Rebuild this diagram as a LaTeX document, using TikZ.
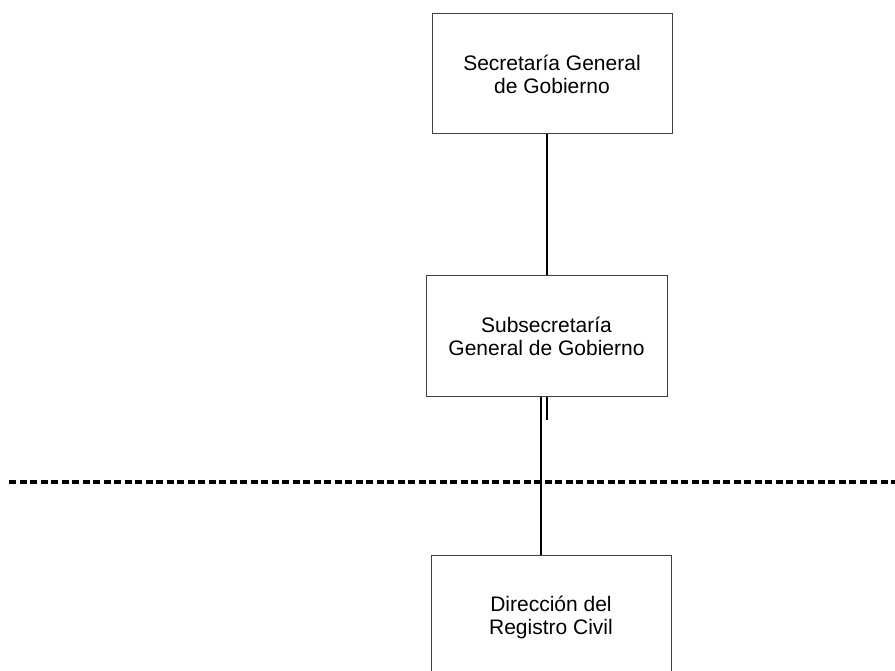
\documentclass[tikz,border=0pt]{standalone}
\usepackage{fontspec}
\setmainfont{Liberation Sans}
\begin{document}
\begin{tikzpicture}[x=1pt,y=-1pt,
  orgbox/.style={draw=black!75,line width=1pt,minimum width=240pt,minimum height=120pt,
    align=center,inner sep=0pt,font=\fontsize{21}{23}\selectfont},
  link/.style={line width=2pt,black},
  sep/.style={line width=3.2pt,black,dash pattern=on 7pt off 3.5pt}]
\useasboundingbox (0,0) rectangle (895,671);
\begin{scope}
\clip (0,0) rectangle (895,671);
\node[orgbox] (b1) at (552,74) {Secretaría General\\de Gobierno};
\node[orgbox,minimum width=241pt] (b2) at (546.5,336) {Subsecretaría\\General de Gobierno};
\node[orgbox,minimum height=124pt] (b3) at (551,617) {Dirección del\\Registro Civil};
\coordinate (s1) at ([xshift=-5.5pt]b2.south);
\coordinate (s2) at (b2.south);
\coordinate (s2e) at ([yshift=-23pt]b2.south);
\draw[link] (b1.south -| b2.north) -- (b2.north);
\draw[link] (s1) -- (s1 |- b3.north);
\draw[link] (s2) -- (s2e);
\coordinate (dl) at (9,482);
\coordinate (dr) at (900,482);
\draw[sep] (dl) -- (dr);
\end{scope}
\end{tikzpicture}
\end{document}
